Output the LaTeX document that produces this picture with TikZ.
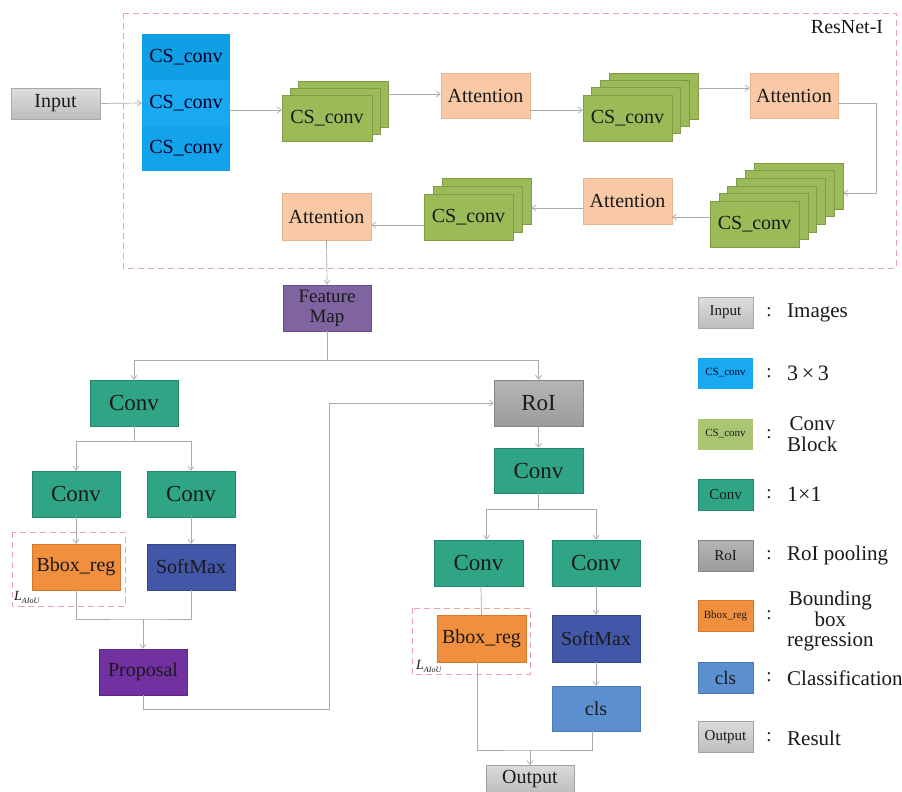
\documentclass[tikz,border=0pt]{standalone}
\usepackage{fontspec}
\setmainfont{Liberation Serif}
\usetikzlibrary{arrows.meta,calc}
\definecolor{cText}{HTML}{1A1A1A}
\definecolor{cInputT}{HTML}{DEDEDE}
\definecolor{cInputB}{HTML}{BDBDBD}
\definecolor{cInputD}{HTML}{A9A9A9}
\definecolor{cBlueA}{HTML}{0E9FE5}
\definecolor{cBlueB}{HTML}{18A9F0}
\definecolor{cBlueC}{HTML}{12A3EA}
\definecolor{cBlueD}{HTML}{0B86C4}
\definecolor{cGreen}{HTML}{9BBB59}
\definecolor{cGreenD}{HTML}{7F9C45}
\definecolor{cAtt}{HTML}{F8C9A4}
\definecolor{cAttD}{HTML}{E7B48C}
\definecolor{cFM}{HTML}{8064A2}
\definecolor{cConv}{HTML}{30A586}
\definecolor{cConvD}{HTML}{24876D}
\definecolor{cRoIT}{HTML}{B5B5B5}
\definecolor{cRoIB}{HTML}{9C9C9C}
\definecolor{cOrange}{HTML}{F0903F}
\definecolor{cOrangeD}{HTML}{D7772A}
\definecolor{cSoft}{HTML}{4257A8}
\definecolor{cProp}{HTML}{7131A1}
\definecolor{cCls}{HTML}{5B8FCF}
\definecolor{cClsD}{HTML}{4A78B0}
\definecolor{cOutT}{HTML}{DADADA}
\definecolor{cOutB}{HTML}{BEBEBE}
\definecolor{cLine}{HTML}{ABABAB}
\definecolor{cDash}{HTML}{F0A0A8}
\newcommand{\setfs}[2]{\fontsize{#1}{#2}\selectfont}
\tikzset{
  base/.style={rectangle, inner sep=0pt, line width=0.5pt, text=cText,
    minimum width=88pt, minimum height=46pt, font=\setfs{20}{22}},
  inpbox/.style={base, top color=cInputT, bottom color=cInputB, draw=cInputD},
  blubox/.style={base, draw=none, text=black!85!blue},
  grnbox/.style={base, fill=cGreen, draw=cGreenD, minimum width=89pt},
  attbox/.style={base, fill=cAtt, draw=cAttD, minimum width=89pt},
  fmbox/.style={base, fill=cFM, draw=cFM!80!black},
  convbox/.style={base, fill=cConv, draw=cConvD, font=\setfs{23}{25}},
  roibox/.style={base, top color=cRoIT, bottom color=cRoIB, draw=cRoIB!85!black, font=\setfs{23}{25}},
  orgbox/.style={base, fill=cOrange, draw=cOrangeD},
  sftbox/.style={base, fill=cSoft, draw=cSoft!80!black},
  prpbox/.style={base, fill=cProp, draw=cProp!80!black},
  clsbox/.style={base, fill=cCls, draw=cClsD},
  outbox/.style={base, top color=cOutT, bottom color=cOutB, draw=cOutB!85!black},
  lg/.style={minimum width=55pt, minimum height=31pt},
  ln/.style={draw=cLine, line width=0.7pt},
  arr/.style={ln, -{Straight Barb[length=4pt,width=6pt]}},
  dbox/.style={draw=cDash, line width=0.8pt, dash pattern=on 6pt off 4pt},
  lgtext/.style={anchor=west, inner sep=0pt, text=cText, font=\setfs{21}{20.5}, align=center},
  colon/.style={inner sep=0pt, text=cText, font=\setfs{19}{20}},
  lossl/.style={anchor=west, inner sep=0pt, text=cText, font=\setfs{14}{14}\itshape},
}
\begin{document}
\begin{tikzpicture}[x=1pt,y=-1pt]
\useasboundingbox (0,0) rectangle (902,792);
\fill[white] (0,0) rectangle (902,792);

% ---------- ResNet-I frame ----------
\draw[dbox] (123,13) rectangle (896,268);
\node[inner sep=0pt, text=cText, font=\setfs{20}{22}] (resl) at (847,27) {ResNet-I};

% Input
\node[inpbox, minimum width=89pt, minimum height=31pt] (inp) at (55.5,103.5) {Input};

% blue 3x3 block
\node[blubox, fill=cBlueA, minimum height=45.7pt] (b1) at (186,57) {CS\_conv};
\node[blubox, fill=cBlueB, minimum height=45.7pt] (b2) at (186,103) {CS\_conv};
\node[blubox, fill=cBlueC, minimum height=45.7pt] (b3) at (186,148.5) {CS\_conv};

% green stack 1 (3 layers)
\foreach \k in {2,1} \node[grnbox, minimum width=90pt] (g1l\k) at ($(327,118)+\k*(8,-7)$) {};
\node[grnbox, minimum width=90pt] (g1l0) at (327,118) {CS\_conv};

% attention 1
\node[attbox, minimum height=45pt] (att1) at (485.5,95.5) {Attention};

% green stack 2 (4 layers)
\foreach \k in {3,2,1} \node[grnbox] (g2l\k) at ($(627.5,118)+\k*(8.7,-7.3)$) {};
\node[grnbox] (g2l0) at (627.5,118) {CS\_conv};

% attention 2
\node[attbox, minimum width=88pt, minimum height=45pt] (att2) at (794,95.5) {Attention};

% big green stack (6 layers)
\foreach \k in {5,4,3,2,1} \node[grnbox] (g3l\k) at ($(754.5,224)+\k*(8.8,-7.6)$) {};
\node[grnbox] (g3l0) at (754.5,224) {CS\_conv};

% attention 3
\node[attbox] (att3) at (627.5,201) {Attention};

% green stack 4 (3 layers)
\foreach \k in {2,1} \node[grnbox] (g4l\k) at ($(468.5,217)+\k*(9,-8)$) {};
\node[grnbox] (g4l0) at (468.5,217) {CS\_conv};

% attention 4
\node[attbox, minimum height=47pt] (att4) at (326.5,216.5) {Attention};

% connectors inside ResNet
\draw[arr] (inp.east) -- (b2.west);
\draw[arr] (b2.east |- 0,110) -- (g1l0.west |- 0,110);
\draw[arr] (g1l2.east |- 0,94) -- (att1.west |- 0,94);
\draw[arr] (att1.east |- 0,110) -- (g2l0.west |- 0,110);
\draw[arr] (g2l3.east |- 0,88) -- (att2.west |- 0,88);
\coordinate (rt) at (876,103);
\draw[arr] (att2.east |- rt) -- (rt) |- (g3l5.east |- 0,193);
\draw[arr] (g3l0.west |- 0,217) -- (att3.east |- 0,217);
\draw[arr] (att3.west |- 0,208) -- (g4l2.east |- 0,208);
\draw[arr] (g4l0.west |- 0,225) -- (att4.east |- 0,225);

% ---------- detection part ----------
\node[fmbox, font=\setfs{19}{20}, align=center] (fm) at (327,308) {Feature\\Map};
\draw[arr] (att4.south) -- (fm.north);

\node[convbox] (conv1) at (134,403) {Conv};
\node[roibox, minimum width=89pt] (roi) at (538.5,403) {RoI};
\coordinate (fmj) at (fm.south |- 0,360);
\draw[ln] (fm.south) -- (fmj);
\draw[arr] (fmj) -| (conv1.north);
\draw[arr] (fmj) -| (roi.north);

% RPN branch
\node[convbox] (conv2l) at (76,494) {Conv};
\node[convbox] (conv2r) at (191,494) {Conv};
\coordinate (c1j) at (conv1.south |- 0,441);
\draw[ln] (conv1.south) -- (c1j);
\draw[arr] (c1j) -| (conv2l.north);
\draw[arr] (c1j) -| (conv2r.north);

\node[orgbox] (bbl) at (76,567) {Bbox\_reg};
\node[sftbox] (sml) at (191,567) {SoftMax};
\draw[arr] (conv2l) -- (bbl);
\draw[arr] (conv2r) -- (sml);
\draw[dbox] (12,532) rectangle (125,606);
\node[lossl] (lossa) at (14,597) {L\raisebox{-3pt}{\setfs{8}{8}AIoU}};

\node[prpbox] (prop) at (143,672) {Proposal};
\coordinate (pj) at (prop.north |- 0,619);
\draw[ln] (bbl.south) |- (pj) -| (sml.south);
\draw[arr] (pj) -- (prop.north);

\coordinate (pt) at (329,709);
\draw[arr] (prop.south) |- (pt) |- (roi.west);

% RoI head
\node[convbox, minimum width=89pt, minimum height=45pt] (conv3) at (538.5,470.5) {Conv};
\draw[arr] (roi) -- (conv3);
\node[convbox, minimum width=89pt] (conv4l) at (478.5,563) {Conv};
\node[convbox] (conv4r) at (596,563) {Conv};
\coordinate (c3j) at (conv3.south |- 0,509);
\draw[ln] (conv3.south) -- (c3j);
\draw[arr] (c3j) -| ($(conv4l.north)+(8,0)$);
\draw[arr] (c3j) -| (conv4r.north);

\node[orgbox, minimum width=89pt, minimum height=47pt] (bbr) at (481.5,638.5) {Bbox\_reg};
\node[sftbox, minimum height=47pt] (smr) at (596,638.5) {SoftMax};
\node[clsbox, minimum height=45pt] (cls) at (596,708.5) {cls};
\draw[ln] ($(conv4l.south)+(2.5,0)$) -- (bbr.north);
\draw[arr] (conv4r) -- (smr);
\draw[arr] (smr) -- (cls);
\draw[dbox] (412,608) rectangle (530,674);
\node[lossl] (lossb) at (416,666) {L\raisebox{-3pt}{\setfs{8}{8}AIoU}};

\node[outbox, minimum height=27pt] (out) at (530,779) {Output};
\coordinate (oj) at (out.north |- 0,750);
\draw[ln] ($(bbr.south)+(-4.5,0)$) |- (oj) -| ($(cls.south)+(-4,0)$);
\draw[arr] (oj) -- (out.north);

% ---------- legend ----------
\node[inpbox, lg, font=\setfs{15}{15}] (lg1) at (725.5,312.5) {Input};
\node[blubox, lg, fill=cBlueB, font=\setfs{11}{11}] (lg2) at (725.5,373) {CS\_conv};
\node[grnbox, lg, fill=cGreen!85!white, draw=none, font=\setfs{11}{11}] (lg3) at (725.5,434) {CS\_conv};
\node[convbox, lg, font=\setfs{15}{15}] (lg4) at (725.5,494.5) {Conv};
\node[roibox, lg, font=\setfs{15}{15}] (lg5) at (725.5,555.5) {RoI};
\node[orgbox, lg, font=\setfs{11}{11}] (lg6) at (725.5,615.5) {Bbox\_reg};
\node[clsbox, lg, font=\setfs{19}{19}] (lg7) at (725.5,677.5) {cls};
\node[outbox, lg, font=\setfs{15}{15}] (lg8) at (725.5,737) {Output};

\foreach \i/\y in {1/312.5,2/373,3/434,4/494.5,5/555.5,6/615.5,7/677.5,8/737}
  \node[colon] (col\i) at (769,\y) {:};

\node[lgtext] (t1) at (787,313) {Images};
\node[lgtext, font=\setfs{22}{22}] (t2) at (787,373) {3\,×\,3};
\node[lgtext] (t3) at (787,434) {Conv\\Block};
\node[lgtext, font=\setfs{22}{22}] (t4) at (787,494) {1×1};
\node[lgtext] (t5) at (787,555) {RoI pooling};
\node[lgtext] (t6) at (787,621) {Bounding\\box\\regression};
\node[lgtext] (t7) at (787,678) {Classification};
\node[lgtext] (t8) at (787,738) {Result};
\end{tikzpicture}
\end{document}
